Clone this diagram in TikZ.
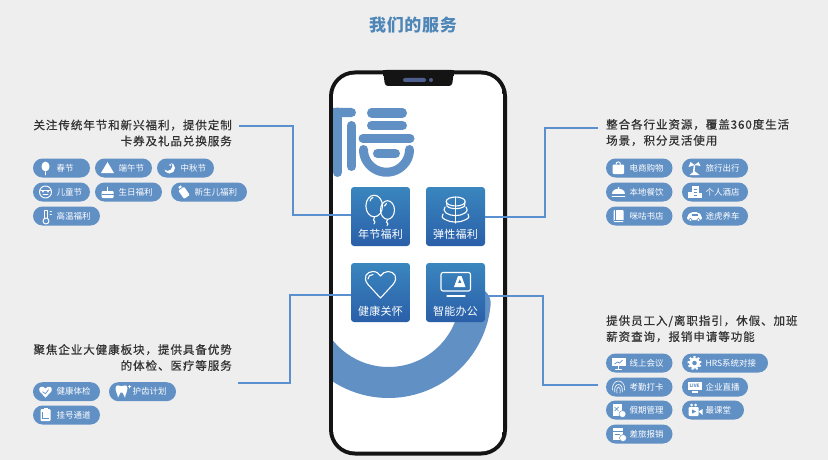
\documentclass[tikz,border=0pt]{standalone}
\usepackage{fontspec}
\setmainfont{Noto Sans CJK SC}
\newfontfamily\descfont[LetterSpace=8.3,FakeBold=0.7]{Noto Sans CJK SC}
\newfontfamily\pillfont[LetterSpace=0]{Noto Sans CJK SC}
\newfontfamily\tilefont[LetterSpace=3]{Noto Sans CJK SC}
\newfontfamily\titlefont[LetterSpace=4]{Noto Sans CJK SC}
\definecolor{bgc}{HTML}{EEEEEE}
\definecolor{blu}{HTML}{6190C5}
\definecolor{linec}{HTML}{5B90D0}
\definecolor{titlec}{HTML}{4F86B8}
\definecolor{txt}{HTML}{333333}
\definecolor{ttop}{HTML}{3A86BE}
\definecolor{tbot}{HTML}{2A5FA9}
\definecolor{spk}{HTML}{4D5F8F}
\tikzset{
  pillbox/.style={fill=blu,rounded corners=9.5pt,minimum height=19pt,inner sep=0pt},
  pilltext/.style={anchor=west,inner sep=0pt,text=white,font=\pillfont\fontsize{8.5}{10}\selectfont},
  desc/.style={inner sep=0pt,text=txt,font=\descfont\fontsize{11.5}{16}\selectfont},
  tile/.style={minimum width=59pt,minimum height=59pt,inner sep=0pt,rounded corners=3pt,top color=ttop,bottom color=tbot,draw=none},
  tilelabel/.style={inner sep=0pt,text=white,font=\tilefont\fontsize{11}{12}\selectfont},
  conn/.style={draw=linec,line width=1.3pt},
  ic/.style={draw=white,line width=0.9pt,line cap=round,line join=round},
  tic/.style={draw=white,line width=1.1pt,line cap=round,line join=round},
  logo/.style={draw=blu,line width=9pt,line cap=round}
}
\newcommand{\pill}[6]{%
  \node[pillbox,minimum width={(#3-#2)*1pt}] (#1) at ({(#2+#3)/2},#4) {};
  \node[pilltext] (#1t) at (#2+23.5,#4) {#5};
  \begin{scope}[shift={(#2+12.5,#4)}]#6\end{scope}}
\begin{document}
\begin{tikzpicture}[x=1pt,y=-1pt]
\useasboundingbox (0,0) rectangle (828,460);
\fill[bgc] (0,0) rectangle (828,460);
\node[inner sep=0pt,text=titlec,font=\titlefont\bfseries\fontsize{17}{18}\selectfont] (title) at (413,25) {我们的服务};

% phone
\fill[black!92,rounded corners=26pt] (329,70.5) rectangle (507,455.5);
\begin{scope}
\clip[rounded corners=22pt] (333,74.5) rectangle (503,451.5);
\fill[white] (333,74.5) rectangle (503,451.5);
\draw[blu,line width=31pt,line cap=round] plot[domain=5:210,samples=80,smooth] ({388.5+87*cos(\x)},{295.5+87*sin(\x)});
\fill[blu,rounded corners=4.5pt] (325,108) rectangle (356,117);
\draw[logo] (351.5,125.5) -- (351.5,166.5);
\draw[logo] (337.5,112) -- (337.5,172.5);
\end{scope}
\fill[black!92,rounded corners=3pt] (383,70) -- (385,86) -- (452,86) -- (454,70) -- cycle;
\fill[black!92] (383,70) rectangle (454,76);
\fill[spk,rounded corners=2pt] (403,78) rectangle (426,82);
\fill[spk] (431,80) circle (2pt);

% logo bars
\draw[logo] (371.5,113) -- (402.5,113);
\draw[logo] (371.5,125.5) -- (402.5,125.5);
\draw[logo] (363,138.5) -- (410,138.5);
\draw[logo] (377.5,153.5) -- (395.5,153.5);
\draw[logo] plot[domain=0:180,samples=40,smooth] ({386.5+23*cos(\x)},{149.5+22.7*sin(\x)});

% tiles
\node[tile] (b1) at (380.5,216.5) {};
\node[tile] (b2) at (455.5,216.5) {};
\node[tile] (b3) at (380.5,292.5) {};
\node[tile] (b4) at (455.5,292.5) {};
\node[tilelabel] (l1) at (380.5,234.7) {年节福利};
\node[tilelabel] (l2) at (455.5,234.7) {弹性福利};
\node[tilelabel] (l3) at (380.5,311) {健康关怀};
\node[tilelabel] (l4) at (455.5,311) {智能办公};

% tile icons
\draw[tic] (374.2,206) ellipse [x radius=8.3pt,y radius=10.8pt];
\draw[tic] (387.5,210) ellipse [x radius=7pt,y radius=9.3pt];
\draw[tic] (370,201) .. controls (370.5,199) and (371.5,198) .. (373,197.5);
\draw[tic] (374.5,217) -- (373.5,220) -- (375,222) -- (374,224);
\draw[tic] (387.5,219.5) -- (386.5,222) -- (388,224) -- (387,225.5);
\draw[tic] (384.5,206) .. controls (384.8,205) and (385.5,204) .. (386.5,203.5);
\draw[tic] (455.7,201.5) ellipse [x radius=9.5pt,y radius=4.5pt];
\draw[tic] (446.5,202) -- (447,206) .. controls (450,209.5) and (461,209.5) .. (464.5,206) -- (465,202);
\draw[tic] (445,207) .. controls (443,209) and (444,211) .. (446,213) .. controls (451,216.5) and (460,216.5) .. (465,213) .. controls (467.5,211) and (468,209) .. (466,207);
\draw[tic] (443,214) .. controls (441,216) and (442,218) .. (445,219.5) .. controls (451,223) and (460,223) .. (466,219.5) .. controls (469,218) and (470,216) .. (468,214);
\draw[tic] (455.7,197.5) -- (455.7,223);
\draw[tic] (380.5,298) -- (368,284.5) .. controls (362,277) and (367,271.5) .. (373,271.5) .. controls (376.5,271.5) and (379,273.5) .. (380.5,276) .. controls (382,273.5) and (385,271.5) .. (388,271.5) .. controls (394,271.5) and (399,277) .. (393,284.5) -- cycle;
\draw[tic] (368,279) .. controls (368,276.5) and (370,274.5) .. (373,274.5);
\draw[tic,rounded corners=2pt] (441,272.5) rectangle (470.5,291);
\draw[tic] (447,296) -- (465,296);
\fill[white,even odd rule] (454,287) -- (458,276) -- (461.5,276) -- (465.5,287) -- cycle (458,283) -- (461.5,283) -- (459.8,279) -- cycle;

% connectors
\coordinate (c1) at (239,126);
\coordinate (c2) at (598,128);
\coordinate (c3) at (238,383);
\coordinate (c4) at (598,385);
\coordinate (j1) at (293,215);
\coordinate (j2) at (545,217);
\coordinate (j3) at (290,295);
\coordinate (j4) at (543,296);
\draw[conn] (c1) -| (j1) -- (b1.west|-j1);
\draw[conn] (c2) -| (j2) -- (b2.east|-j2);
\draw[conn] (c3) -| (j3) -- (b3.west|-j3);
\draw[conn] (c4) -| (j4) -- (b4.east|-j4);

% descriptions
\node[desc,anchor=east,align=right] (d1) at (232,133) {关注传统年节和新兴福利，提供定制\\卡券及礼品兑换服务};
\node[desc,anchor=west,align=left] (d2) at (606,132.5) {整合各行业资源，覆盖360度生活\\场景，积分灵活使用};
\node[desc,anchor=east,align=right] (d3) at (232,357.5) {聚焦企业大健康板块，提供具备优势\\的体检、医疗等服务};
\node[desc,anchor=west,align=left] (d4) at (606,328.7) {提供员工入/离职指引，休假、加班\\薪资查询，报销申请等功能};

% pills top-left
\pill{p1}{33}{90}{168}{春节}{\fill[white] (0,-1.5) ellipse [x radius=4pt,y radius=5pt]; \draw[ic] (0,4) -- (0,7);}
\pill{p2}{95}{152}{168}{端午节}{\fill[white] (-6.5,5) -- (0,-6) -- (6.5,5) -- cycle;}
\pill{p3}{157}{214}{168}{中秋节}{\fill[white] (0,0) circle (5.5pt); \fill[blu] (-2,-2) circle (4.8pt); \fill[white] (0.5,-3) circle (1pt);}
\pill{p4}{33}{90}{192}{儿童节}{\draw[ic] (0,0) circle (6pt); \fill[white] (-2.5,-0.5) circle (1pt) (2.5,-0.5) circle (1pt); \draw[ic] (-2.5,2.5) -- (2.5,2.5); \draw[ic] (-5,-2) -- (5,-2);}
\pill{p5}{95}{162}{192}{生日福利}{\fill[white,rounded corners=1pt] (-6,-1) rectangle (6,6); \draw[blu,line width=0.6pt] (-6,2) -- (6,2); \draw[ic] (0,-1) -- (0,-5);}
\pill{p6}{171}{247}{192}{新生儿福利}{\fill[white,rotate=35,rounded corners=1pt] (-3.5,-4) rectangle (3.5,6); \fill[white,rotate=35] (-1.5,-7) rectangle (1.5,-5);}
\pill{p7}{33}{100}{216}{高温福利}{\draw[ic] (-1,-5) -- (-1,3); \draw[ic] (2,-5) -- (2,3); \draw[ic] (-1,-6) -- (2,-6); \draw[ic] (0.5,5) circle (3pt); \draw[ic] (4.5,-5) -- (6,-5); \draw[ic] (4.5,-2) -- (6,-2);}
% pills top-right
\pill{p8}{606}{672.5}{168}{电商购物}{\fill[white,rounded corners=1pt] (-6,-3.5) rectangle (5.5,6); \draw[ic] (-2.5,-3.5) .. controls (-2.5,-7) and (2,-7) .. (2,-3.5);}
\pill{p9}{682}{748}{168}{旅行出行}{\draw[white,line width=1.6pt] (-1,6) -- (0,-3); \fill[white] (0,-3) -- (-6,-1) -- (-4,-6) -- cycle; \fill[white] (0,-3) -- (6,-2) -- (4,-6) -- cycle; \fill[white] (-5,7) -- (5,7) -- (0,3) -- cycle;}
\pill{p10}{606}{672.5}{192}{本地餐饮}{\fill[white] (-6.5,2) .. controls (-6.5,-5) and (6.5,-5) .. (6.5,2) -- cycle; \draw[ic] (-6.5,4.5) -- (6.5,4.5); \fill[white] (0,-4) circle (1pt);}
\pill{p11}{682}{748}{192}{个人酒店}{\fill[white] (-3,-6) rectangle (4,6); \fill[white] (-7,0) rectangle (-3,6); \fill[white] (4,1) rectangle (7,6); \draw[blu,line width=0.6pt] (-1,-3) -- (2,-3) (-1,0) -- (2,0) (-1,3) -- (2,3);}
\pill{p12}{606}{672.5}{216}{咪咕书店}{\fill[white,rounded corners=1pt] (-5,-6) rectangle (5,6); \draw[blu,line width=0.6pt] (-5,4) -- (5,4) (-3.5,-6) -- (-3.5,4);}
\pill{p13}{682}{748}{216}{途虎养车}{\fill[white,rounded corners=2pt] (-7.5,4) -- (-7.5,0) -- (-3.5,-4) -- (3.5,-4) -- (7.5,0) -- (7.5,4) -- cycle; \fill[blu] (-3,-2.5) rectangle (3,0); \fill[white,draw=blu,line width=0.5pt] (-4,4) circle (1.8pt) (4,4) circle (1.8pt);}
% pills bottom-right
\pill{p14}{606}{672.5}{363}{线上会议}{\fill[white] (-7,-5) rectangle (7,3); \draw[blu,line width=0.7pt] (-4,1) -- (-1,-1) -- (1,0) -- (4,-3); \draw[ic] (0,3) -- (0,6) (-3,6) -- (3,6);}
\pill{p15}{682}{768}{363}{HRS系统对接}{\draw[white,line width=3pt] (0,0) circle (4pt); \draw[white,line width=2pt,dash pattern=on 2pt off 2.2pt] (0,0) circle (6pt);}
\pill{p16}{606}{672.5}{387}{考勤打卡}{\draw[ic,line width=0.6pt] (-6,3) .. controls (-7,-9) and (7,-9) .. (6,3); \draw[ic,line width=0.6pt] (-3.8,5) .. controls (-5,-5) and (5,-5) .. (3.8,5); \draw[ic,line width=0.6pt] (-1.5,6) .. controls (-3,-2) and (3,-2) .. (1.5,6);}
\pill{p17}{682}{748}{387}{企业直播}{\fill[white] (-7,-5) rectangle (7,3); \fill[white] (-3,4) rectangle (3,5.5); \node[inner sep=0pt,text=blu,font=\bfseries\fontsize{4.5}{5}\selectfont] (p17i) at (0,-1) {LIVE};}
\pill{p18}{606}{672.5}{410}{假期管理}{\fill[white] (-6,-6) rectangle (3,6); \fill[white,draw=blu,line width=0.5pt] (4,4) circle (3.5pt); \draw[blu,line width=0.7pt] (-4,-3) -- (0,1) (0,-3) -- (-4,1);}
\pill{p19}{682}{744}{410}{最课堂}{\fill[white,rounded corners=1pt] (-6,-3) rectangle (4,6); \fill[white] (4,1.5) -- (8,-1) -- (8,5) -- cycle; \fill[white] (-3,-5) circle (1.5pt) (1,-5) circle (1.5pt); \fill[blu] (-2.5,-0.5) -- (1.5,1.5) -- (-2.5,3.5) -- cycle;}
\pill{p20}{606}{672.5}{434}{差旅报销}{\fill[white] (-6,-6) rectangle (4,6); \draw[blu,line width=0.8pt] (-6,-3) -- (4,-3) (-4,0) -- (1,0); \fill[white,draw=blu,line width=0.5pt] (4.5,4) circle (3.5pt);}
% pills bottom-left
\pill{p21}{33}{100}{391.7}{健康体检}{\fill[white] (0,6) -- (-6,-0.5) .. controls (-8,-5) and (-2,-7) .. (0,-3) .. controls (2,-7) and (8,-5) .. (6,-0.5) -- cycle; \draw[blu,line width=0.7pt] (-3,0) -- (0,2) -- (3,-2);}
\pill{p22}{109}{176}{391.7}{护齿计划}{\fill[white] (-6,-3) .. controls (-6,-8) and (-2,-6) .. (0,-5.5) .. controls (2,-6) and (6,-8) .. (6,-3) .. controls (6,0) and (4,2) .. (3.5,6) -- (1,1) -- (-1,1) -- (-3.5,6) .. controls (-4,2) and (-6,0) .. (-6,-3) -- cycle; \draw[ic,line width=0.6pt] (7,-5) -- (9.5,-5) (8.2,-6.3) -- (8.2,-3.7);}
\pill{p23}{33}{100}{415}{挂号通道}{\fill[white,rounded corners=1pt] (-5,-6) rectangle (5,6); \fill[white] (-2,-7.5) rectangle (2,-5); \draw[blu,line width=0.7pt] (-3,-3) -- (-3,3) -- (3,3);}
\end{tikzpicture}
\end{document}
